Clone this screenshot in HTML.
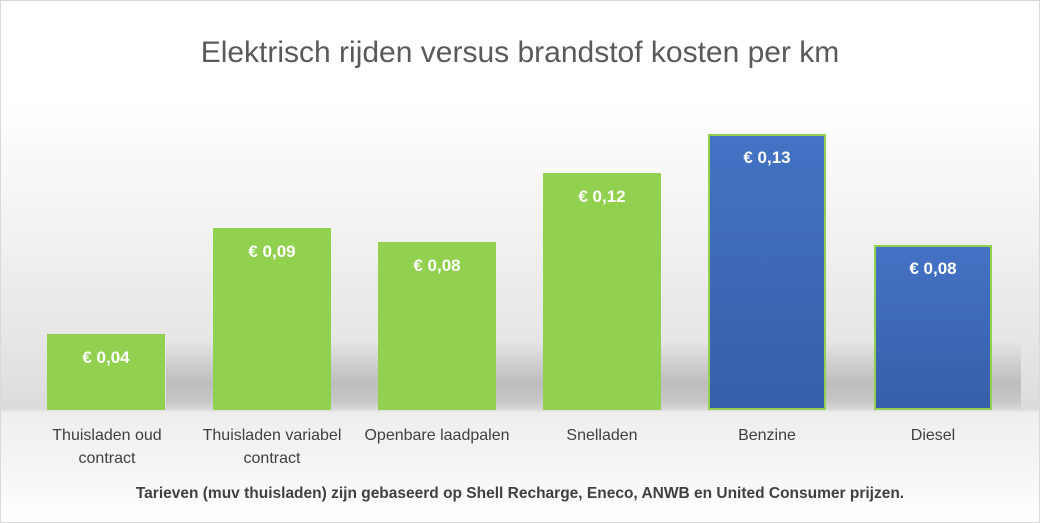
<!DOCTYPE html>
<html><head><meta charset="utf-8"><style>
body{margin:0;width:1040px;height:523px;overflow:hidden;font-family:"Liberation Sans",sans-serif}
#c{position:relative;width:1038px;height:521px;border:1px solid #d9d9d9;background:linear-gradient(#fff 0px,#fff 100px,#e6e6e6 340px,#dcdcdc 408px,#eeeeee 412px,#f4f4f4 460px,#fff 521px);overflow:hidden}
.t{position:absolute;left:0;width:1038px;text-align:center;color:#595959}
.shadow{position:absolute;left:165px;width:855px;top:340px;height:70px;background:linear-gradient(rgba(150,150,150,0),rgba(160,160,160,.55) 60%,rgba(175,175,175,.5) 85%,rgba(220,220,220,.2));}
.b{position:absolute;bottom:112px;width:118px;color:#fff;font-weight:bold;font-size:17px;text-align:center;box-sizing:border-box}
.g{background:#92d050}
.bl{background:linear-gradient(#4472c4,#365fab);border:2px solid #92d050}
.b span{position:absolute;left:0;right:0;top:14px}
.l{position:absolute;top:423px;width:164px;text-align:center;color:#404040;font-size:16px;line-height:23px}
</style></head><body><div id="c">
<div class="t" style="top:35px;font-size:30px">Elektrisch rijden versus brandstof kosten per km</div>
<div class="shadow"></div>
<div class="b g" style="left:46px;height:76px"><span>€ 0,04</span></div>
<div class="b g" style="left:212px;height:182px"><span>€ 0,09</span></div>
<div class="b g" style="left:377px;height:168px"><span>€ 0,08</span></div>
<div class="b g" style="left:542px;height:237px"><span>€ 0,12</span></div>
<div class="b bl" style="left:707px;height:276px"><span style="top:12px">€ 0,13</span></div>
<div class="b bl" style="left:873px;height:165px"><span style="top:12px">€ 0,08</span></div>
<div class="l" style="left:24px">Thuisladen oud<br>contract</div>
<div class="l" style="left:189px">Thuisladen variabel<br>contract</div>
<div class="l" style="left:354px">Openbare laadpalen</div>
<div class="l" style="left:519px">Snelladen</div>
<div class="l" style="left:684px">Benzine</div>
<div class="l" style="left:850px">Diesel</div>
<div class="t" style="top:484px;font-size:15.5px;font-weight:bold;color:#404040">Tarieven (muv thuisladen) zijn gebaseerd op Shell Recharge, Eneco, ANWB en United Consumer prijzen.</div>
</div></body></html>
